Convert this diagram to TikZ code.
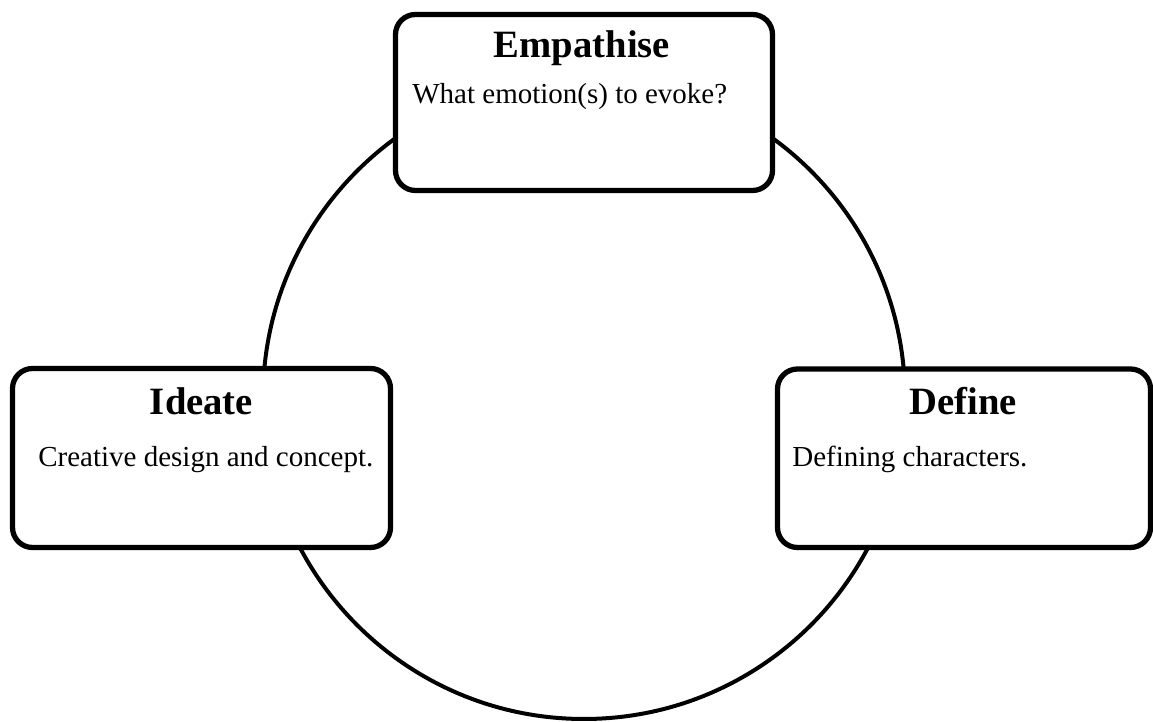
\documentclass[tikz,border=0pt]{standalone}
\usepackage{fontspec}
\setmainfont{Liberation Serif}
\usetikzlibrary{positioning, calc, shapes}

\begin{document}
\begin{tikzpicture}[
    stagebox/.style={draw, line width=3pt, rounded corners=0.4cm, fill=white, inner sep=0pt},
    stagetitle/.style={anchor=base, inner sep=0pt, font=\fontsize{22}{26}\selectfont\bfseries},
    stagetext/.style={anchor=base west, inner sep=0pt, font=\fontsize{16.5}{20}\selectfont}
  ]
  \useasboundingbox (0,0) rectangle (23.06,14.44);
  \draw[line width=2.27pt] (11.68,6.48) circle (6.42cm);
  % the three stages
  \node[stagebox, minimum width=7.54cm, minimum height=3.52cm] (empathise) at (11.68,12.39) {};
  \node[stagebox, minimum width=7.56cm, minimum height=3.58cm] (ideate) at (4.03,5.28) {};
  \node[stagebox, minimum width=7.46cm, minimum height=3.57cm] (define) at (19.28,5.275) {};
  \node[stagetitle] (empathisetitle) at (11.64,13.28) {Empathise};
  \node[stagetext] (empathisetext) at (8.24,12.36) {What emotion(s) to evoke?};
  \node[stagetitle] (ideatetitle) at (4.03,6.14) {Ideate};
  \node[stagetext] (ideatetext) at (0.76,5.10) {Creative design and concept.};
  \node[stagetitle] (definetitle) at (19.26,6.14) {Define};
  \node[stagetext] (definetext) at (15.84,5.10) {Defining characters.};
\end{tikzpicture}
\end{document}
